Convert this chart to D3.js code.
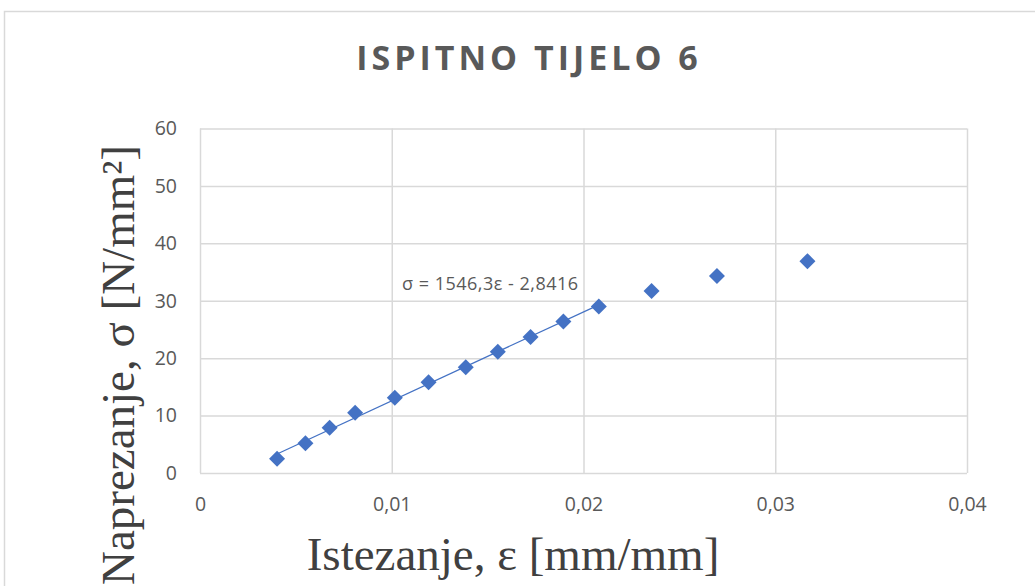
<!DOCTYPE html>
<html>
<head>
<meta charset="utf-8">
<script src="https://cdn.jsdelivr.net/npm/d3@7"></script>
<style>
  html, body { margin: 0; padding: 0; background: #fff; }
  svg { display: block; }
</style>
</head>
<body>
<svg id="chart" width="1035" height="586"></svg>
<script>
// ---- data ----
const strain = [0.00402, 0.00550, 0.00676, 0.00809, 0.01016, 0.01192, 0.01386, 0.01553, 0.01724, 0.01895, 0.02080, 0.02355, 0.02696, 0.03168];
const stress = [2.5, 5.2, 7.9, 10.5, 13.1, 15.8, 18.4, 21.1, 23.7, 26.4, 29.0, 31.7, 34.3, 36.9];
const fitCount = 11; // points used for the linear trendline
const xTicks = [0, 0.01, 0.02, 0.03, 0.04];
const xTickLabels = ["0", "0,01", "0,02", "0,03", "0,04"];
const yTicks = [0, 10, 20, 30, 40, 50, 60];
const titleText = "ISPITNO TIJELO 6";
const xLabel = "Istezanje, ε [mm/mm]";
const yLabel = "Naprezanje, σ [N/mm²]";
const equationText = "σ = 1546,3ε - 2,8416";

// ---- layout ----
const svg = d3.select("#chart");
const plot = { left: 200, right: 967, top: 128.5, bottom: 473 };
const blue = "#4472C4";
const grid = "#d9d9d9";
const tickColor = "#595959";

const x = d3.scaleLinear().domain([0, 0.04]).range([plot.left, plot.right]);
const y = d3.scaleLinear().domain([0, 60]).range([plot.bottom, plot.top]);

// chart border
svg.append("path")
  .attr("d", `M4.5,586 L4.5,11.5 L1035,11.5`)
  .attr("fill", "none").attr("stroke", grid).attr("stroke-width", 1.5);

// gridlines via axes
svg.append("g")
  .attr("transform", `translate(0,${plot.bottom})`)
  .call(d3.axisBottom(x).tickValues(xTicks).tickSize(-(plot.bottom - plot.top)).tickFormat(""))
  .call(g => g.select(".domain").remove())
  .call(g => g.selectAll("line").attr("stroke", grid).attr("stroke-width", 1.5));

svg.append("g")
  .attr("transform", `translate(${plot.left},0)`)
  .call(d3.axisLeft(y).tickValues(yTicks).tickSize(-(plot.right - plot.left)).tickFormat(""))
  .call(g => g.select(".domain").remove())
  .call(g => g.selectAll("line").attr("stroke", grid).attr("stroke-width", 1.5));

// tick labels
const xAxis = svg.append("g")
  .attr("transform", `translate(0,${plot.bottom})`)
  .call(d3.axisBottom(x).tickValues(xTicks).tickSize(0).tickPadding(24)
    .tickFormat((d, i) => xTickLabels[i]));
xAxis.select(".domain").remove();
xAxis.selectAll("text").attr("fill", tickColor)
  .style("font-family", "'Open Sans', sans-serif").style("font-size", "19.5px");

const yAxis = svg.append("g")
  .attr("transform", `translate(${plot.left},0)`)
  .call(d3.axisLeft(y).tickValues(yTicks).tickSize(0).tickPadding(23));
yAxis.select(".domain").remove();
yAxis.selectAll("text").attr("fill", tickColor)
  .style("font-family", "'Open Sans', sans-serif").style("font-size", "19.5px");

// linear trendline (least squares over the first points)
const fx = strain.slice(0, fitCount), fy = stress.slice(0, fitCount);
const mx = d3.mean(fx), my = d3.mean(fy);
const slope = d3.sum(fx, (v, i) => (v - mx) * (fy[i] - my)) / d3.sum(fx, v => (v - mx) * (v - mx));
const icpt = my - slope * mx;
const xs = [d3.min(fx), d3.max(fx)];
svg.append("path")
  .datum(xs)
  .attr("d", d3.line().x(d => x(d)).y(d => y(slope * d + icpt)))
  .attr("fill", "none").attr("stroke", blue).attr("stroke-width", 1.2);

// markers (diamonds)
const r = 8;
svg.append("g").selectAll("path")
  .data(strain.map((s, i) => [s, stress[i]]))
  .join("path")
  .attr("transform", d => `translate(${x(d[0])},${y(d[1])})`)
  .attr("d", `M0,${-r}L${r},0L0,${r}L${-r},0Z`)
  .attr("fill", blue);

// equation label
svg.append("text")
  .attr("x", 402).attr("y", 290)
  .attr("fill", tickColor)
  .style("font-family", "'Open Sans', sans-serif").style("font-size", "18px")
  .style("letter-spacing", "0.5px")
  .text(equationText);

// title
svg.append("text")
  .attr("x", 529).attr("y", 70)
  .attr("text-anchor", "middle")
  .attr("fill", "#595959")
  .style("font-family", "'Open Sans', sans-serif").style("font-weight", "bold")
  .style("font-size", "34px").style("letter-spacing", "4px")
  .text(titleText);

// axis titles
svg.append("text")
  .attr("x", 513).attr("y", 570)
  .attr("text-anchor", "middle")
  .attr("fill", "#404040")
  .style("font-family", "'Liberation Serif', 'Times New Roman', serif")
  .style("font-size", "47px")
  .text(xLabel);

svg.append("text")
  .attr("transform", `translate(134,365) rotate(-90)`)
  .attr("text-anchor", "middle")
  .attr("fill", "#404040")
  .style("font-family", "'Liberation Serif', 'Times New Roman', serif")
  .style("font-size", "47px")
  .text(yLabel);
</script>
</body>
</html>
